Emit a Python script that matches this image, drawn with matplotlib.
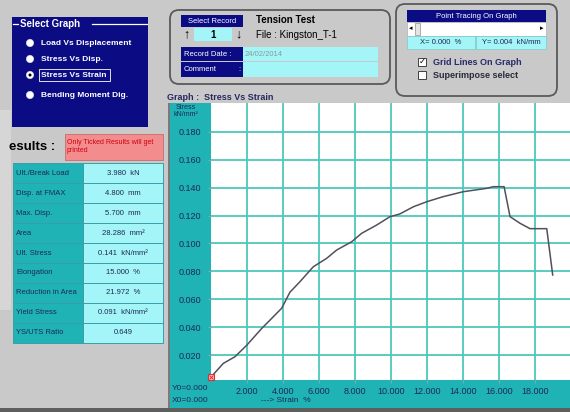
import matplotlib
matplotlib.use('Agg')
import matplotlib.pyplot as plt
from matplotlib.patches import Rectangle, FancyBboxPatch, Circle

# stress-strain curve (strain in %, stress in kN/mm2)
strain = [0.0, 0.70, 1.35, 2.00, 2.83, 3.29, 3.94, 4.40, 4.96, 5.70, 6.44, 7.00,
          7.83, 8.39, 9.22, 9.96, 10.50, 11.26, 12.00, 12.90, 14.03, 15.33, 15.70,
          16.30, 16.63, 17.18, 17.74, 18.67, 19.00]
stress = [0.004, 0.0140, 0.0188, 0.0270, 0.0390, 0.0450, 0.0535, 0.0650, 0.0726,
          0.0833, 0.0893, 0.0953, 0.1012, 0.1073, 0.1132, 0.1192, 0.1211, 0.1263,
          0.1299, 0.1335, 0.1371, 0.1395, 0.1407, 0.1407, 0.1192, 0.1145, 0.1106,
          0.1106, 0.0774]

x_ticks = [2, 4, 6, 8, 10, 12, 14, 16, 18]
y_ticks = [0.02, 0.04, 0.06, 0.08, 0.10, 0.12, 0.14, 0.16, 0.18]

graph_options = ['Load Vs Displacement', 'Stress Vs Disp.', 'Stress Vs Strain',
                 'Bending Moment Dig.']
result_names = ['Ult./Break Load', 'Disp. at FMAX', 'Max. Disp.', 'Area', 'Ult. Stress',
                'Elongation', 'Reduction in Area', 'Yield Stress', 'YS/UTS Ratio']
result_values = ['3.980  kN', '4.800  mm', '5.700  mm', '28.286  mm\u00b2',
                 '0.141  kN/mm\u00b2', '15.000  %', '21.972  %', '0.091  kN/mm\u00b2',
                 '0.649']

W, H = 570, 412
NAVY = '#0B0B84'
TEAL = '#1FB3B5'
CYAN = '#A4F5F7'
GRAY = '#C9C9C9'
INK = '#1C2A55'

plt.rcParams['font.family'] = ['Liberation Sans', 'DejaVu Sans']

fig = plt.figure(figsize=(W / 100, H / 100), dpi=100, facecolor=GRAY)
bg = fig.add_axes([0, 0, 1, 1])
bg.set_xlim(0, W)
bg.set_ylim(H, 0)
bg.axis('off')


def box(x, y, w, h, fc, ec='none', lw=0.8, z=1):
    bg.add_patch(Rectangle((x, y), w, h, facecolor=fc, edgecolor=ec, linewidth=lw, zorder=z))


def label(x, y, s, size=6, color='black', weight='normal', ha='left', z=5):
    bg.text(x, y, s, fontsize=size, color=color, fontweight=weight, ha=ha, va='center', zorder=z)


def panel(x, y, w, h):
    bg.add_patch(FancyBboxPatch((x, y), w, h, boxstyle='round,pad=0,rounding_size=9',
                                facecolor=GRAY, edgecolor='#5A5A5A', linewidth=1.3, zorder=1))


# left strip
box(0, 110, 11, 200, '#D6D6D6', z=0)

# select graph panel
box(12, 17, 136, 110, NAVY)
bg.plot([13, 18], [24, 24], color='white', lw=0.9, zorder=3)
bg.plot([92, 147], [24, 24], color='white', lw=0.9, zorder=3)
label(20, 24, 'Select Graph', size=7, color='white', weight='bold')
for i, name in enumerate(graph_options):
    yy = [43, 59, 75, 95][i]
    bg.add_patch(Circle((30, yy), 3.6, facecolor='white', edgecolor='#DDDDDD', lw=0.5, zorder=3))
    label(41, yy, name, size=6, color='white', weight='bold')
bg.add_patch(Circle((30, 75), 1.5, facecolor='black', zorder=4))
box(39, 69, 71, 12, 'none', ec='white', lw=0.6, z=4)

# record panel
panel(170, 10, 220, 74)
box(181, 15, 62, 12, NAVY)
label(212, 21, 'Select Record', size=5.5, color='white', ha='center')
box(194, 28, 38, 13, CYAN)
label(213, 34.5, '1', size=7, weight='bold', ha='center')
label(186, 34.5, '\u2191', size=9, weight='bold', ha='center')
label(238, 34.5, '\u2193', size=9, weight='bold', ha='center')
label(256, 20, 'Tension Test', size=7, weight='bold')
label(256, 35, 'File : Kingston_T-1', size=7)
box(181, 47, 62, 14, NAVY)
label(184, 54, 'Record Date :', size=5.5, color='white')
box(243, 47, 135, 14, CYAN)
label(245, 54, '24/02/2014', size=5.5, color='#8A9A9A')
box(181, 62, 62, 15, NAVY)
label(184, 69.5, 'Comment', size=5.5, color='white')
label(238, 69.5, ':', size=5.5, color='white')
box(243, 62, 135, 15, CYAN)

# point tracing panel
panel(396, 4, 161, 92)
box(407, 10, 139, 12, NAVY)
label(476, 16, 'Point Tracing On Graph', size=5.5, color='white', ha='center')
box(407, 22, 139, 14, 'white', ec='#B0B0B0', lw=0.5)
label(411, 29, '\u25c2', size=5, ha='center')
label(542, 29, '\u25b8', size=5, ha='center')
box(415, 23, 5, 12, '#E4E4E4', ec='#909090', lw=0.5, z=2)
box(407, 36, 68, 13, CYAN, ec='#7ACACA', lw=0.5)
label(441, 42.5, 'X= 0.000  %', size=5.5, color=INK, ha='center')
box(476, 36, 70, 13, CYAN, ec='#7ACACA', lw=0.5)
label(511, 42.5, 'Y= 0.004  kN/mm', size=5.5, color=INK, ha='center')
box(418, 58, 8, 8, 'white', ec='#404040', lw=0.7, z=3)
label(422, 62, '\u2713', size=6, weight='bold', ha='center')
label(433, 62, 'Grid Lines On Graph', size=6.5, weight='bold', color='#2A2A6A')
box(418, 71, 8, 8, 'white', ec='#404040', lw=0.7, z=3)
label(433, 75, 'Superimpose select', size=6.5, weight='bold', color='#2A2A3A')

label(167, 97, 'Graph :  Stress Vs Strain', size=6.5, weight='bold', color='#282860')

# results block
label(9, 147, 'esults :', size=9.5, weight='bold')
box(65, 134, 98, 26, '#F38C8C', ec='#C06060', lw=0.5)
label(67, 147, 'Only Ticked Results will get\nprinted', size=5, color='#D00010')
for i, name in enumerate(result_names):
    yy = 163 + 20 * i
    box(13, yy, 70, 20, TEAL, ec='#3A9EA8', lw=0.7)
    box(83, yy, 80, 20, CYAN, ec='#3A9EA8', lw=0.7)
    label(16, yy + 10, name, size=5.5, color=INK)
    label(123, yy + 10, result_values[i], size=5.5, color=INK, ha='center')

# graph frame
box(170, 103, 400, 305, TEAL, z=0)
box(168, 103, 2, 305, '#7A7A7A', z=0)
box(0, 408, W, 4, '#5E5E5E', z=0)
label(176, 107, 'Stress', size=5, color=INK)
label(174, 114, 'kN/mm\u00b2', size=5, color=INK)
label(172, 389, 'Y0=0.000', size=6, color=INK)
label(172, 400, 'X0=0.000', size=6, color=INK)
label(261, 401, '---> Strain  %', size=6, color=INK)

# the plot itself
x0, x1, y0, y1 = 210.7, 570, 103, 380
ax = fig.add_axes([x0 / W, (H - y1) / H, (x1 - x0) / W, (y1 - y0) / H])
ax.set_facecolor('white')
ax.plot(strain, stress, color='#50505E', lw=1.1, zorder=3)
ax.plot(strain[:1], stress[:1], marker='s', ms=5, mfc='#FFC4C4', mec='#E03030',
        mew=0.8, clip_on=False, zorder=4)
ax.plot(strain[:1], stress[:1], marker='x', ms=3, mec='#E03030', mew=0.7,
        clip_on=False, zorder=5)
ax.set_xlim(0, (x1 - x0) / 18)
ax.set_ylim(0.0021, 0.2007)
ax.set_xticks(x_ticks)
ax.set_xticklabels([f'{v:.3f}' for v in x_ticks])
ax.set_yticks(y_ticks)
ax.set_yticklabels([f'{v:.3f}' for v in y_ticks])
ax.grid(True, color='#4CC8BC', lw=1.3)
ax.set_axisbelow(True)
for s in ax.spines.values():
    s.set_visible(False)
ax.tick_params(axis='both', labelsize=6.5, labelcolor=INK, color='#8AA8A8', length=2)
ax.tick_params(axis='y', pad=5)
ax.tick_params(axis='x', pad=3.2)

fig.savefig('out.png', dpi=100, facecolor=GRAY)
